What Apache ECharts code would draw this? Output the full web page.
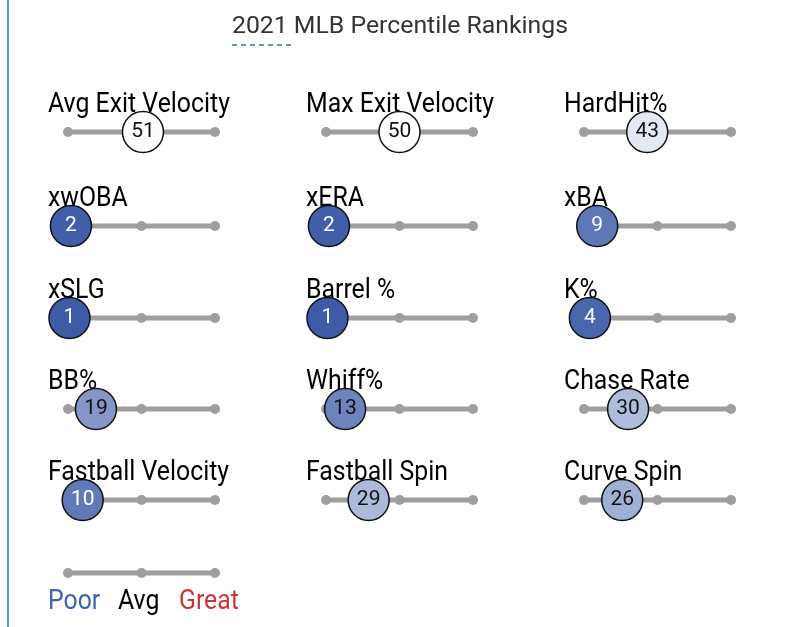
<!DOCTYPE html>
<html><head><meta charset="utf-8">
<script src="https://cdn.jsdelivr.net/npm/echarts@6/dist/echarts.min.js"></script>
<style>html,body{margin:0;padding:0;background:#fff}#c{width:791px;height:627px}</style>
</head><body><div id="c"></div>
<script>
const titleText = '2021 MLB Percentile Rankings';
const metrics = ['Avg Exit Velocity','Max Exit Velocity','HardHit%','xwOBA','xERA','xBA','xSLG','Barrel %','K%','BB%','Whiff%','Chase Rate','Fastball Velocity','Fastball Spin','Curve Spin'];
const percentiles = [51,50,43,2,2,9,1,1,4,19,13,30,10,29,26];
const scaleTicks = [0,50,100];
const legendLabels = ['Poor','Avg','Great'];

const colX = [68,326,584];
const rowY = [132,226,318,409,500];
const lineW = 147;
const legendY = 573;
const POOR=[57,88,165], MID=[255,255,255], GREAT=[214,41,41];
function pctColor(p){
  let a,b,t;
  if(p<=50){a=POOR;b=MID;t=p/50;}else{a=MID;b=GREAT;t=(p-50)/50;}
  const c=a.map((v,i)=>Math.round(v+(b[i]-v)*t));
  return 'rgb('+c.join(',')+')';
}
const FONT_LABEL='Roboto, "Noto Sans", sans-serif';
const grids=[],xAxes=[],yAxes=[],series=[],graphics=[];
function addPanel(idx,left,cy,value){
  grids.push({left:left,top:cy-20,width:lineW,height:40});
  xAxes.push({gridIndex:idx,type:'value',min:0,max:100,show:false});
  yAxes.push({gridIndex:idx,type:'value',min:-1,max:1,show:false});
  series.push({type:'line',xAxisIndex:idx,yAxisIndex:idx,data:scaleTicks.map(t=>[t,0]),
    symbol:'circle',symbolSize:10,showSymbol:true,silent:true,
    lineStyle:{color:'#9e9e9e',width:5},itemStyle:{color:'#9e9e9e'},z:2});
  if(value!==null){
    series.push({type:'scatter',xAxisIndex:idx,yAxisIndex:idx,data:[[value,0]],symbolSize:41,z:5,
      itemStyle:{color:pctColor(value),borderColor:'#111',borderWidth:1.5,opacity:1},
      label:{show:true,position:'inside',formatter:String(value),fontSize:21,fontFamily:FONT_LABEL,
        color:value<=10?'#fff':'#111'}});
  }
}
metrics.forEach((m,i)=>{
  const col=i%3,row=Math.floor(i/3);
  addPanel(i,colX[col],rowY[row],percentiles[i]);
  graphics.push({type:'text',x:colX[col]-20,y:rowY[row]-27,scaleX:0.92,z:10,
    style:{text:m,font:'27px '+FONT_LABEL,fill:'#000',textVerticalAlign:'middle',textAlign:'left'}});
});
addPanel(metrics.length,colX[0],legendY,null);
const legendColors=['#3f62ad','#000','#c93434'];
const legendX=[48,118,179];
legendLabels.forEach((t,i)=>{
  graphics.push({type:'text',x:legendX[i],y:602,scaleX:0.92,z:10,
    style:{text:t,font:'27px '+FONT_LABEL,fill:legendColors[i],textVerticalAlign:'middle'}});
});
graphics.push({type:'text',x:400,y:27,z:10,
  style:{text:titleText,font:'24.8px '+FONT_LABEL,fill:'#333',textAlign:'center',textVerticalAlign:'middle'}});
graphics.push({type:'line',shape:{x1:232,y1:45,x2:294,y2:45},style:{stroke:'#5b9aaa',lineWidth:2,lineDash:[5,4]}});
graphics.push({type:'line',shape:{x1:8,y1:0,x2:8,y2:627},style:{stroke:'#5b9aaa',lineWidth:2}});

const chart=echarts.init(document.getElementById('c'),null,{renderer:'canvas'});
chart.setOption({animation:false,grid:grids,xAxis:xAxes,yAxis:yAxes,series:series,graphic:graphics});
</script></body></html>
